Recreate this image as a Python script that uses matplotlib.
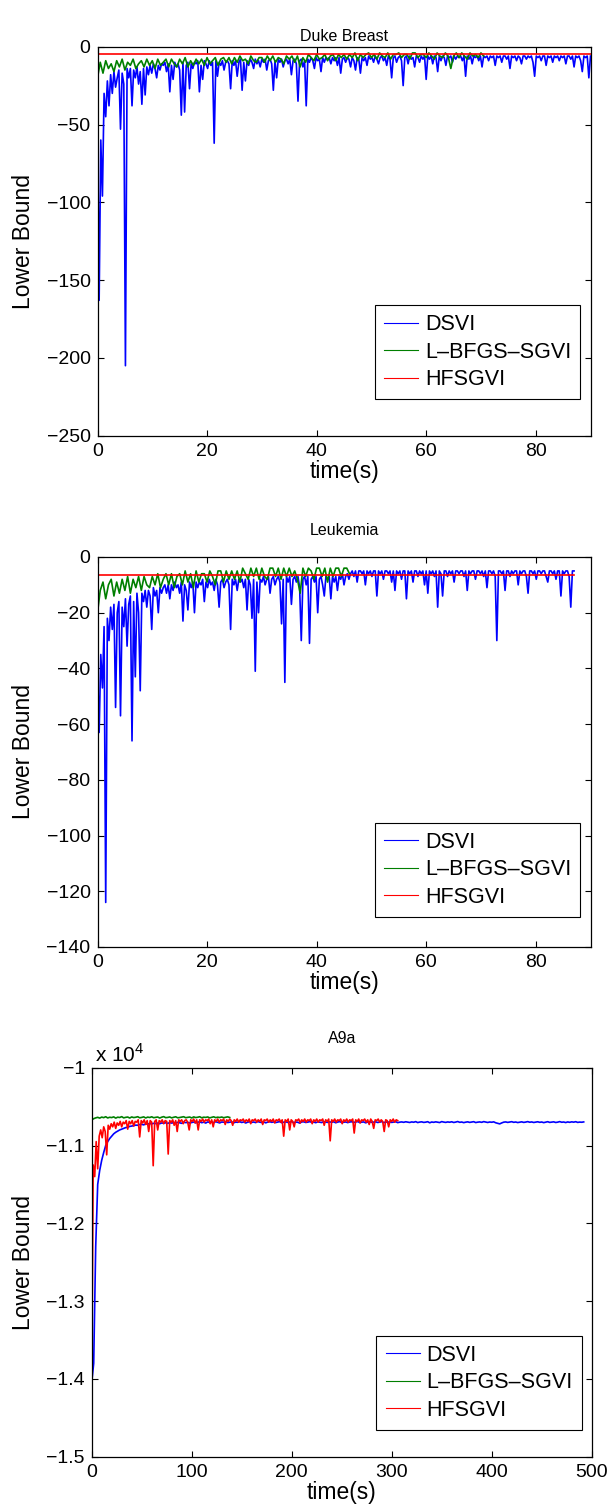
import numpy as np
import matplotlib
matplotlib.use('Agg')
import matplotlib.pyplot as plt
from matplotlib.ticker import FuncFormatter
from matplotlib.lines import Line2D

plt.rcParams['font.family'] = ['Liberation Sans', 'DejaVu Sans']
plt.rcParams['mathtext.fontset'] = 'custom'
plt.rcParams['mathtext.rm'] = 'Liberation Sans'
plt.rcParams['axes.unicode_minus'] = True

# ---------------- data ----------------
series_labels = ['DSVI', 'L\u2013BFGS\u2013SGVI', 'HFSGVI']
series_colors = ['#0000ff', '#007f00', '#ff0000']
panel_titles = ['Duke Breast', 'Leukemia', 'A9a']

# Duke Breast
duke_t_end = [90.0, 70.5, 90.0]
duke_dsvi = [
    -45, -163, -60, -96, -30, -45, -22, -38, -18, -30, -16, -26, -20, -15, -53, -17, -24, -205, -14, -20,
    -14, -38, -15, -20, -13, -24, -16, -37, -14, -31, -13, -18, -12, -17, -11, -14, -20, -12, -15, -11,
    -12, -10, -16, -11, -29, -12, -21, -10, -13, -11, -15, -44, -10, -42, -12, -10, -27, -11, -14, -10,
    -11, -9, -29, -12, -21, -9, -11, -14, -9, -12, -10, -62, -9, -19, -10, -12, -9, -15, -10, -9,
    -11, -27, -9, -12, -9, -19, -10, -8, -28, -10, -22, -9, -12, -8, -10, -14, -8, -11, -9, -13,
    -8, -10, -8, -15, -9, -8, -11, -28, -9, -20, -8, -10, -8, -13, -9, -8, -11, -8, -18, -9,
    -8, -11, -35, -9, -8, -13, -9, -38, -8, -10, -7, -9, -14, -7, -9, -8, -16, -7, -10, -7,
    -8, -7, -11, -7, -9, -7, -12, -7, -17, -8, -7, -10, -7, -8, -13, -7, -9, -15, -7, -8,
    -17, -7, -9, -7, -12, -6, -8, -7, -10, -6, -8, -11, -7, -6, -9, -7, -12, -6, -8, -20,
    -7, -6, -10, -7, -6, -9, -25, -7, -6, -11, -6, -8, -7, -13, -6, -7, -10, -6, -8, -6,
    -21, -6, -8, -6, -11, -6, -7, -16, -6, -9, -6, -7, -12, -6, -7, -6, -10, -6, -8, -6,
    -7, -6, -9, -6, -19, -6, -8, -6, -11, -6, -7, -6, -9, -6, -13, -6, -7, -6, -9, -6,
    -7, -6, -12, -6, -7, -6, -10, -6, -6, -8, -6, -14, -6, -7, -6, -9, -6, -7, -11, -6,
    -6, -8, -6, -7, -6, -10, -19, -6, -7, -6, -9, -6, -6, -12, -6, -7, -6, -10, -6, -7,
    -6, -9, -6, -7, -6, -11, -6, -6, -8, -6, -13, -6, -7, -6, -9, -16, -6, -7, -6, -20, -6,
]
duke_lbfgs = [
    -20, -10, -17, -9, -14, -11, -16, -9, -13, -8, -15, -10, -12, -8, -14, -11, -9, -13, -8, -12,
    -9, -14, -8, -12, -10, -8, -13, -8, -11, -13,
    -8, -11, -7, -13, -9, -12, -8, -11, -8, -12,
    -7, -11, -9, -7, -12, -8, -7, -10, -7, -11,
    -7, -10, -6, -9, -8, -11, -6, -9, -10, -7,
    -7, -10, -6, -9, -6, -10, -7, -8, -11, -6,
    -8, -6, -10, -6, -13, -7, -10, -5, -7, -9,
    -5, -8, -7, -5, -9, -6, -5, -9, -5, -7,
    -5, -8, -5, -7, -4, -9, -5, -7, -5, -4,
    -7, -5, -8, -4, -6, -7, -4, -8, -5, -5,
    -4, -7, -5, -5, -8, -4, -4, -7, -5, -5,
    -7, -4, -6, -8, -4, -6, -7, -4, -6, -14,
    -6, -4, -7, -4, -6, -8, -4, -6, -5, -7,
    -4, -6,
]
duke_hfsgvi = [-4.7, -4.7]

# Leukemia
leuk_t_end = [87.0, 46.0, 87.0]
leuk_dsvi = [
    -40, -63, -35, -47, -25, -124, -22, -30, -18, -26, -17, -54, -20, -16, -57, -18, -25, -15, -32, -17,
    -14, -66, -16, -43, -13, -20, -48, -13, -16, -12, -18, -12, -14, -26, -11, -14, -12, -20, -11, -13,
    -11, -10, -13, -10, -15, -10, -12, -9, -11, -10, -13, -9, -23, -10, -12, -19, -9, -11, -9, -20,
    -9, -11, -9, -10, -8, -16, -9, -11, -8, -10, -9, -12, -8, -10, -18, -9, -8, -11, -9, -8,
    -10, -26, -8, -10, -8, -12, -8, -9, -8, -11, -8, -19, -8, -10, -22, -8, -41, -9, -20, -8,
    -9, -7, -10, -8, -7, -13, -8, -7, -10, -8, -7, -9, -24, -8, -45, -7, -9, -7, -17, -8,
    -7, -9, -7, -11, -30, -8, -7, -10, -7, -31, -8, -7, -9, -7, -20, -8, -7, -10, -14, -7,
    -8, -7, -15, -7, -9, -7, -12, -7, -8, -6, -10, -7, -6, -8, -6, -5, -7, -5, -9, -5,
    -5, -6, -5, -10, -5, -6, -5, -7, -5, -5, -14, -5, -6, -5, -8, -5, -5, -6, -5, -9,
    -5, -12, -5, -6, -5, -8, -5, -5, -15, -5, -6, -5, -9, -5, -5, -7, -5, -6, -5, -10,
    -5, -13, -5, -6, -5, -7, -5, -18, -5, -6, -14, -5, -5, -7, -5, -6, -5, -9, -5, -5,
    -6, -5, -5, -7, -5, -12, -5, -6, -5, -5, -8, -5, -5, -6, -5, -7, -5, -11, -5, -5,
    -6, -5, -7, -30, -5, -5, -6, -5, -12, -5, -5, -7, -5, -6, -5, -5, -10, -5, -6, -5,
    -5, -7, -13, -5, -5, -6, -5, -8, -5, -5, -6, -5, -5, -7, -9, -5, -5, -6, -5, -8,
    -5, -5, -14, -5, -6, -5, -5, -7, -18, -5, -5,
]
leuk_lbfgs = [
    -20, -12, -9, -15, -10, -8, -14, -9, -13, -8,
    -12, -7, -13, -8, -11, -7, -12, -7, -10, -11,
    -7, -10, -6, -11, -8, -6, -10, -6, -11, -7,
    -6, -10, -5, -9, -6, -11, -5, -9, -6, -6,
    -9, -5, -7, -10, -5, -5, -9, -5, -8, -5,
    -8, -5, -9, -4, -6, -8, -4, -7, -4, -8,
    -4, -7, -8, -4, -4, -7, -4, -8, -4, -7,
    -4, -7, -5, -8, -13, -4, -7, -4, -5, -8,
    -4, -4, -7, -4, -9, -4, -7, -4, -4, -7,
    -4, -4, -6,
]
leuk_hfsgvi = [-6.4, -6.4]

# A9a
a9a_t_end = [492.0, 138.0, 306.0]
a9a_dsvi = [
    -14050, -13800, -12300, -11500, -11320, -11190, -11090, -11000, -10950, -10910,
    -10880, -10850, -10830, -10815, -10800, -10790, -10780, -10770, -10765, -10755,
    -10750, -10745, -10738, -10740, -10730, -10728, -10735, -10722, -10725, -10718,
    -10722, -10715, -10718, -10712, -10720, -10710, -10714, -10708, -10716, -10706,
    -10712, -10705, -10710, -10702, -10709, -10715, -10700, -10706, -10703, -10711,
    -10704, -10698, -10709, -10701, -10695, -10707, -10700, -10712, -10697, -10703,
    -10699, -10706, -10694, -10702, -10710, -10698, -10701, -10693, -10705, -10700,
    -10696, -10708, -10699, -10702, -10694, -10704, -10697, -10711, -10700, -10695,
    -10703, -10698, -10706, -10692, -10700, -10704, -10697, -10709, -10699, -10694,
    -10702, -10697, -10705, -10699, -10693, -10708, -10700, -10696, -10703, -10698,
    -10694, -10706, -10699, -10701, -10712, -10697, -10695, -10704, -10700, -10693,
    -10702, -10698, -10707, -10696, -10700, -10705, -10694, -10699, -10703, -10697,
    -10701, -10695, -10708, -10699, -10693, -10704, -10700, -10697, -10706, -10698,
    -10695, -10703, -10699, -10692, -10705, -10700, -10697, -10709, -10698, -10694,
    -10702, -10699, -10696, -10704, -10700, -10693, -10707, -10698, -10701, -10696,
    -10703, -10698, -10694, -10706, -10700, -10697, -10702, -10695, -10699, -10704,
    -10697, -10701, -10693, -10705, -10699, -10696, -10703, -10700, -10694, -10708,
    -10698, -10702, -10696, -10700, -10705, -10693, -10699, -10703, -10697, -10701,
    -10695, -10704, -10699, -10692, -10702, -10698, -10706, -10700, -10696, -10703,
    -10699, -10694, -10705, -10700, -10697, -10702, -10693, -10699, -10704, -10698,
    -10701, -10696, -10708, -10715, -10722, -10710, -10700, -10697, -10703, -10699,
    -10694, -10702, -10698, -10705, -10700, -10696, -10703, -10699, -10693, -10701,
    -10697, -10704, -10699, -10695, -10702, -10698, -10706, -10700, -10694, -10703,
    -10699, -10696, -10704, -10700, -10693, -10701, -10698, -10705, -10697, -10702,
    -10696, -10700, -10694, -10703, -10699, -10701, -10697,
]
a9a_lbfgs = [
    -10672, -10655, -10645, -10638, -10648, -10635, -10642, -10630, -10646, -10637,
    -10641, -10632, -10648, -10636, -10640, -10629, -10645, -10638, -10634, -10647,
    -10633, -10641, -10637, -10630, -10644, -10639, -10632, -10646, -10635, -10640,
    -10631, -10643, -10638, -10634, -10647, -10636, -10629, -10642, -10639, -10633,
    -10645, -10637, -10631, -10644, -10640, -10635, -10630, -10643, -10638, -10634,
    -10646, -10632, -10641, -10637, -10630, -10644, -10636, -10639, -10633, -10645,
    -10638, -10631, -10642, -10636, -10640, -10634, -10643, -10637, -10632, -10640,
]
a9a_hfsgvi = [
    -14000, -11250, -11400, -10950, -11300, -10880, -10800, -10900, -10760, -10820,
    -11120, -10740, -10790, -10720, -10760, -10700, -10780, -10710, -10740, -10690,
    -10760, -10700, -10720, -10680, -10790, -10690, -10720, -10680, -10750, -10690,
    -10700, -10670, -10890, -10680, -10710, -10670, -10730, -10680, -10820, -10680,
    -10700, -11260, -10690, -10670, -10800, -10680, -10700, -10670, -10720, -10680,
    -10690, -11110, -10680, -10700, -10670, -10740, -10680, -10820, -10670, -10690,
    -10670, -10720, -10680, -10670, -10700, -10800, -10670, -10690, -10660, -10710,
    -10670, -10800, -10670, -10690, -10660, -10700, -10670, -10680, -10660, -10720,
    -10670, -10760, -10670, -10690, -10660, -10700, -10670, -10680, -10660, -10730,
    -10670, -10690, -10660, -10680, -10740, -10670, -10690, -10660, -10700, -10670,
    -10680, -10660, -10700, -10670, -10690, -10660, -10720, -10670, -10680, -10660,
    -10700, -10670, -10690, -10660, -10730, -10670, -10680, -10660, -10700, -10670,
    -10690, -10660, -10710, -10670, -10680, -10660, -10700, -10670, -10880, -10670,
    -10690, -10660, -10800, -10670, -10690, -10760, -10670, -10680, -10660, -10710,
    -10670, -10690, -10660, -10700, -10670, -10680, -10660, -10720, -10670, -10690,
    -10660, -10700, -10670, -10680, -10660, -10740, -10670, -10690, -10660, -10940,
    -10670, -10690, -10660, -10700, -10670, -10680, -10660, -10720, -10670, -10690,
    -10660, -10700, -10670, -10680, -10660, -10840, -10670, -10690, -10660, -10710,
    -10670, -10680, -10660, -10700, -10670, -10730, -10660, -10690, -10780, -10670,
    -10680, -10660, -10700, -10670, -10690, -10820, -10670, -10680, -10760, -10670,
    -10690, -10660, -10700, -10670, -10680,
]

panels = [
    dict(series=[duke_dsvi, duke_lbfgs, duke_hfsgvi], t_end=duke_t_end,
         xlim=(0, 90), ylim=(-250, 0), xticks=[0, 20, 40, 60, 80],
         yticks=[-250, -200, -150, -100, -50, 0]),
    dict(series=[leuk_dsvi, leuk_lbfgs, leuk_hfsgvi], t_end=leuk_t_end,
         xlim=(0, 90), ylim=(-140, 0), xticks=[0, 20, 40, 60, 80],
         yticks=[-140, -120, -100, -80, -60, -40, -20, 0]),
    dict(series=[a9a_dsvi, a9a_lbfgs, a9a_hfsgvi], t_end=a9a_t_end,
         xlim=(0, 500), ylim=(-15000, -10000), xticks=[0, 100, 200, 300, 400, 500],
         yticks=[-15000, -14000, -13000, -12000, -11000, -10000]),
]

# ---------------- layout ----------------
W, H = 613, 1512
fig = plt.figure(figsize=(W / 100, H / 100), dpi=100)
# pixel boxes: left, top, right, bottom
boxes = [(97.5, 46.7, 590.5, 435.7), (97.5, 557.0, 590.5, 947.0), (91.7, 1067.7, 591.7, 1456.7)]
legend_anchor = [(0.979, 0.094), (0.979, 0.077), (0.98, 0.069)]
title_pads = [4, 16, 18]
TICK_FS = 14
LABEL_FS = 16.5
LEG_FS = 15.5
TITLE_FS = 11.5

for k, (p, (l, t, r, b)) in enumerate(zip(panels, boxes)):
    ax = fig.add_axes([l / W, 1 - b / H, (r - l) / W, (b - t) / H])
    for vals, tend, col in zip(p['series'], p['t_end'], series_colors):
        tt = np.linspace(0, tend, len(vals))
        ax.plot(tt, vals, color=col, lw=1.2)
    ax.set_xlim(*p['xlim'])
    ax.set_ylim(*p['ylim'])
    ax.set_xticks(p['xticks'])
    ax.set_yticks(p['yticks'])
    ax.tick_params(direction='in', top=True, right=True, length=4, width=0.8,
                   labelsize=TICK_FS, pad=5)
    for s in ax.spines.values():
        s.set_linewidth(0.9)
    ax.set_ylabel('Lower Bound', fontsize=LABEL_FS, labelpad=8)
    ax.set_xlabel('time(s)', fontsize=LABEL_FS, labelpad=0)
    if k == 2:
        ax.yaxis.set_major_formatter(FuncFormatter(
            lambda v, pos: ('%g' % (v / 1e4)).replace('-', '\u2212')))
        ax.text(0.006, 1.004, r'x 10$^{4}$', transform=ax.transAxes,
                ha='left', va='bottom', fontsize=15)
    ax.set_title(panel_titles[k], fontsize=TITLE_FS, pad=title_pads[k])
    handles = [Line2D([0], [0], color=c, lw=0.8) for c in series_colors]
    leg = ax.legend(handles, series_labels, loc='lower right',
                    bbox_to_anchor=legend_anchor[k], borderaxespad=0,
                    fontsize=LEG_FS, fancybox=False, framealpha=1,
                    edgecolor='black', handlelength=1.6, handletextpad=0.3,
                    labelspacing=0.3, borderpad=0.42)
    leg.get_frame().set_linewidth(0.8)

fig.savefig('out.png', dpi=100)
